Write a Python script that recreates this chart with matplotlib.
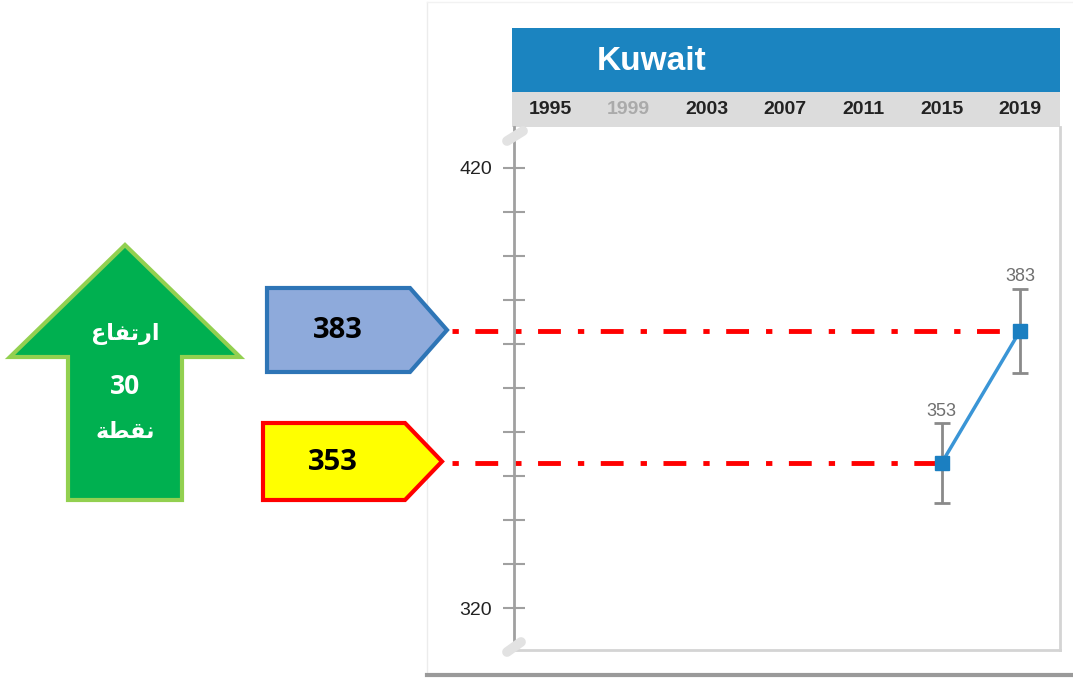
import numpy as np
import matplotlib.pyplot as plt
from matplotlib.patches import Polygon, Rectangle
from matplotlib.transforms import blended_transform_factory

# data
header_years = [1995, 1999, 2003, 2007, 2011, 2015, 2019]
years = [2015, 2019]
scores = [353, 383]
errors = [9, 9.5]
country = 'Kuwait'
ytick_values = list(range(320, 421, 10))

W, H = 1073, 678
fig = plt.figure(figsize=(W / 100, H / 100), dpi=100)

# background axes in pixel units for the drawn shapes
bg = fig.add_axes([0, 0, 1, 1])
bg.set_xlim(0, W)
bg.set_ylim(H, 0)
bg.axis('off')

# chart axes
ax = fig.add_axes([514 / W, (H - 650) / H, (1060 - 514) / W, (650 - 127) / H])
ax.set_xlim(1993.16, 2021.04)
ax.set_ylim(310.5, 429.3)
ax.patch.set_alpha(0)

# panel frame around the picture
bg.plot([427, 427], [2, 674], color='#ececec', lw=1, zorder=0)
bg.plot([427, W], [2, 2], color='#f2f2f2', lw=1, zorder=0)
bg.plot([427, W], [675, 675], color='#9a9a9a', lw=3, zorder=0)

# header band
bg.add_patch(Rectangle((512, 28), 548, 64, facecolor='#1b84c0', edgecolor='none'))
bg.add_patch(Rectangle((512, 92), 548, 35, facecolor='#dcdcdc', edgecolor='none'))
bg.text(597, 62, country, color='white', fontsize=24, fontweight='bold',
        family='Liberation Sans', ha='left', va='center')
hdr = blended_transform_factory(ax.transData, bg.transData)
for yr in header_years:
    bg.text(yr, 110, str(yr), transform=hdr, ha='center', va='center',
            fontsize=14, fontweight='bold', family='Liberation Sans',
            color='#aaaaaa' if yr == 1999 else '#222222')

# axes styling
ax.spines['top'].set_visible(False)
ax.spines['right'].set_color('#d4d4d4')
ax.spines['right'].set_linewidth(2)
ax.spines['bottom'].set_color('#d4d4d4')
ax.spines['bottom'].set_linewidth(2)
ax.spines['left'].set_color('#a0a0a0')
ax.spines['left'].set_linewidth(2)
ax.set_xticks([])
ax.set_yticks(ytick_values)
ax.set_yticklabels([str(v) if v in (320, 420) else '' for v in ytick_values],
                   family='Liberation Sans', fontsize=14, color='#222222')
ax.tick_params(axis='y', direction='inout', length=16, width=1.5,
               color='#a0a0a0', pad=8)

# axis break marks
for (x0, y0, x1, y1) in [(507, 141, 523, 131), (507, 652, 521, 642)]:
    ax.plot([x0, x1], [y0, y1], transform=bg.transData, color='#e2e2e2',
            lw=7, solid_capstyle='round', clip_on=False, zorder=5)

# red dash-dot reference lines from the labels to the points
start_x = ax.transData.inverted().transform(bg.transData.transform((452, 0)))[0]
for yr, sc in zip(years, scores):
    ax.plot([start_x, yr], [sc, sc], color='#ff0000', lw=3.5,
            dashes=(1.3, 3.4, 4.7, 3.5), dash_capstyle='butt',
            clip_on=False, zorder=2)

# line with error bars
ax.errorbar(years, scores, yerr=errors, fmt='none', ecolor='#8a8a8a',
            elinewidth=2, capsize=6, capthick=2, zorder=3)
ax.plot(years, scores, color='#3a95d6', lw=2.5, zorder=4)
ax.plot(years, scores, 's', color='#1b7fc1', markersize=10, zorder=5)
for yr, sc, er in zip(years, scores, errors):
    ax.text(yr, sc + er + 0.8, str(sc), ha='center', va='bottom',
            fontsize=13, color='#6f6f6f', family='Liberation Sans')

# value tags on the left
tag_styles = [
    (scores[1], 267, 410, 447, 288, 372, '#8eaadb', '#2e75b6'),
    (scores[0], 263, 405, 442, 423, 500, '#ffff00', '#ff0000'),
]
for val, xl, xr, xt, yt, yb, fc, ec in tag_styles:
    ym = (yt + yb) / 2
    bg.add_patch(Polygon([(xl, yt), (xr, yt), (xt, ym), (xr, yb), (xl, yb)],
                         closed=True, facecolor=fc, edgecolor=ec, lw=3, zorder=3))
    bg.text((xl + xr) / 2 - 1, ym + 1, str(val), ha='center', va='center',
            fontsize=21, fontweight='bold', family='Open Sans', color='black',
            zorder=4)

# green up arrow with the change
bg.add_patch(Polygon([(125, 245), (240, 357), (182, 357), (182, 500),
                      (68, 500), (68, 357), (10, 357)], closed=True,
                     facecolor='#00b050', edgecolor='#92d050', lw=3))
change = scores[1] - scores[0]
bg.text(125, 334, '\uFEC9\uFE8E\uFED4\uFE97\uFEAD\uFE8D', ha='center', va='center',
        fontsize=16, fontweight='bold', family='DejaVu Sans', color='white')
bg.text(125, 387, str(change), ha='center', va='center',
        fontsize=19, fontweight='bold', family='Open Sans', color='white')
bg.text(125, 432, '\uFE94\uFEC4\uFED8\uFEE7', ha='center', va='center',
        fontsize=16, fontweight='bold', family='DejaVu Sans', color='white')

fig.savefig('out.png', dpi=100)
